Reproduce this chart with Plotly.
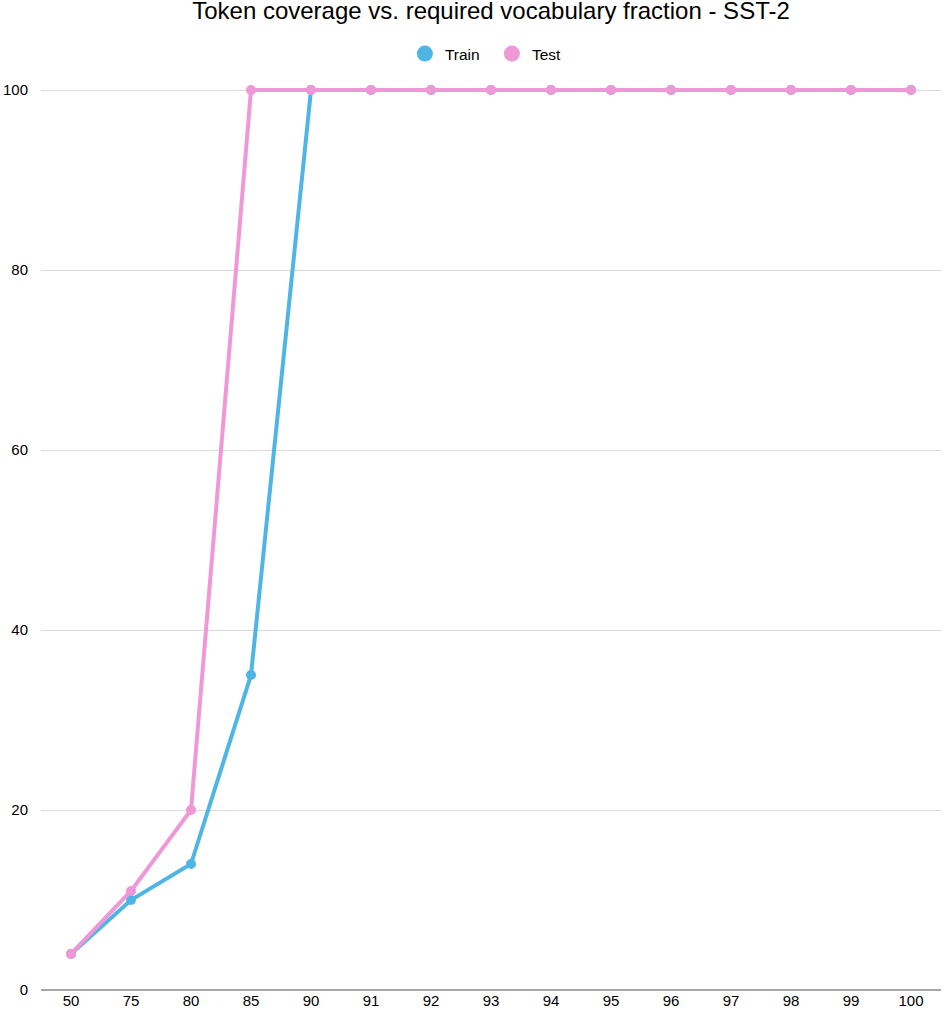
import plotly.graph_objects as go

categories = ["50", "75", "80", "85", "90", "91", "92", "93", "94", "95", "96", "97", "98", "99", "100"]
train_values = [4, 10, 14, 35, 100, 100, 100, 100, 100, 100, 100, 100, 100, 100, 100]
test_values = [4, 11, 20, 100, 100, 100, 100, 100, 100, 100, 100, 100, 100, 100, 100]
y_ticks = [0, 20, 40, 60, 80, 100]

train_color = "#4EB5E5"
test_color = "#EE98D7"
font_family = "Liberation Sans, Arial, sans-serif"

fig = go.Figure()
for name, vals, col in [("Train", train_values, train_color), ("Test", test_values, test_color)]:
    fig.add_trace(go.Scatter(
        x=categories, y=vals, mode="lines+markers", name=name,
        line=dict(color=col, width=4),
        marker=dict(color=col, size=10),
        showlegend=False, cliponaxis=False,
    ))
for name, col in [("Train", train_color), ("Test", test_color)]:
    fig.add_trace(go.Scatter(
        x=[None], y=[None], mode="markers", name=name,
        marker=dict(color=col, size=16),
        showlegend=True,
    ))

fig.update_layout(
    width=944, height=1012,
    paper_bgcolor="white", plot_bgcolor="white",
    margin=dict(l=41, r=3, t=88, b=22),
    font=dict(family=font_family, color="#000000", size=15),
    title=dict(text="Token coverage vs. required vocabulary fraction - SST-2",
               xref="paper", x=0.5, xanchor="center", y=1 - 11 / 1012, yanchor="middle",
               font=dict(size=24, color="#000000")),
    legend=dict(orientation="h", x=0.501, xanchor="center", y=(990 - 54) / 902, yanchor="middle",
                font=dict(size=15.5), itemwidth=30, traceorder="normal",
                entrywidth=42, entrywidthmode="pixels"),
    xaxis=dict(type="category", range=[-0.5, len(categories) - 0.5],
               showgrid=False, showline=False, zeroline=False,
               ticks="", tickfont=dict(size=15), fixedrange=True),
    yaxis=dict(range=[0, 100 + 2 / 9], tickvals=y_ticks, showgrid=True, gridcolor="#D9D9D9",
               gridwidth=1, zeroline=True, zerolinecolor="#A6A6A6", zerolinewidth=1.5,
               showline=False, ticks="", ticklabelstandoff=12, tickfont=dict(size=15)),
)

fig.write_html("out.html", config={"displayModeBar": False},
               post_script="document.body.style.margin='0';")
